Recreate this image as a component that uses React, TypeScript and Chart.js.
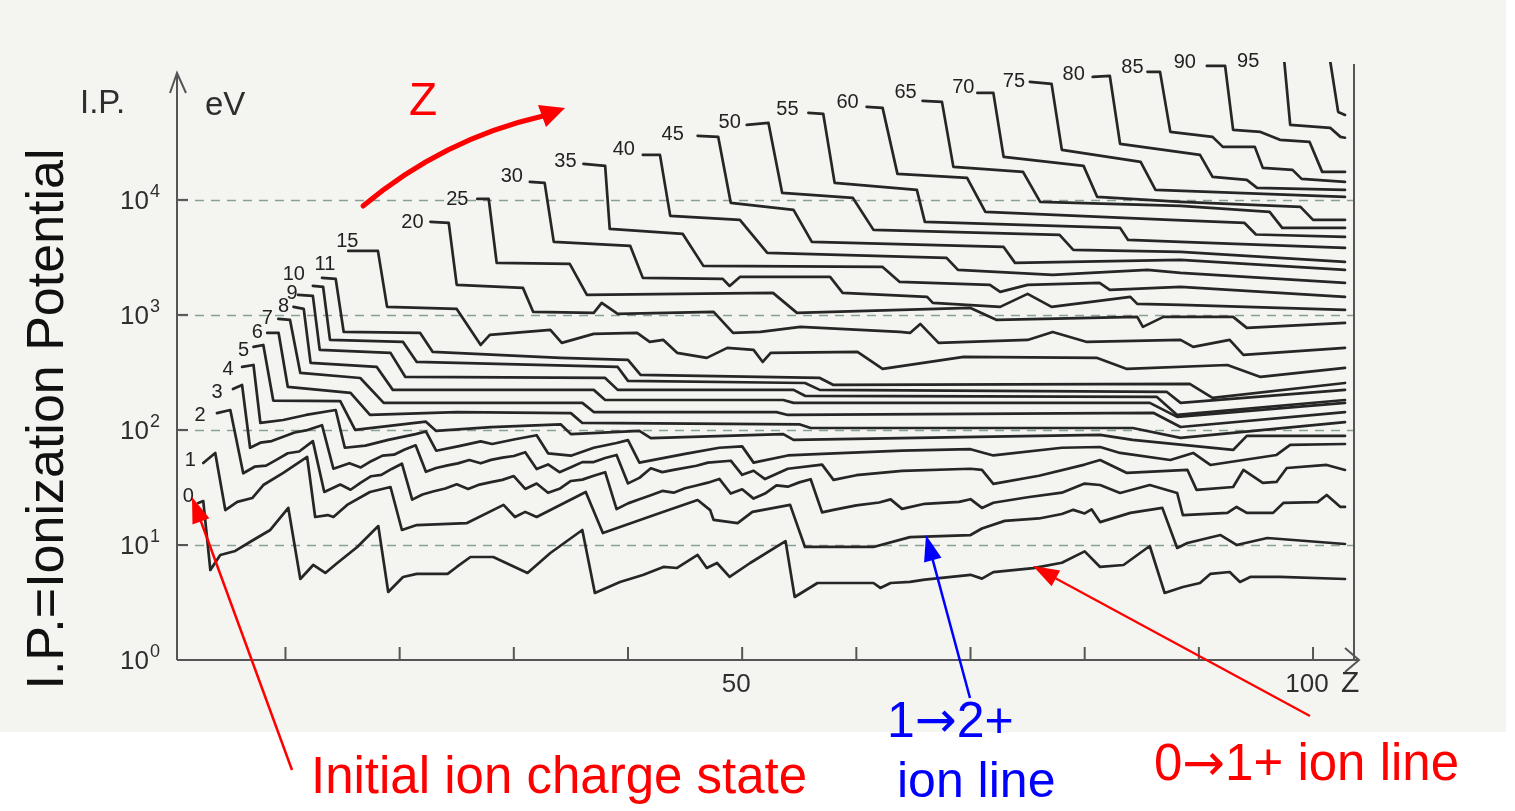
import React, { useEffect, useRef } from "react";
import { Chart, registerables } from "chart.js";

Chart.register(...registerables);

const FONT = '"Liberation Sans", Arial, Helvetica, sans-serif';
const ARROW_FONT = '"DejaVu Sans", sans-serif';
const INK = "#262626";

// Ionization potential (eV) versus atomic number Z, one list per initial charge state.
// Each entry: [Z, I.P. in eV]
const ion0 = [[2.36,23.2],[2.8,24.1],[3.42,6.06],[4.29,8.19],[5.6,8.87],[7.18,11.05],[8.67,13.5],[10.25,21.0],[11.3,5.06],[12.43,6.7],[13.49,5.71],[14.54,6.97],[16.29,9.61],[18.13,14.6],[19.0,3.9],[20.3,5.27],[21.5,5.6],[24.2,5.6],[25.0,6.44],[26.2,7.86],[28.2,7.86],[31.2,5.71],[33.2,8.52],[36.0,13.5],[37.1,3.83],[39.3,4.77],[41.3,5.48],[43.1,6.44],[44.3,6.31],[46.1,8.19],[46.9,6.31],[47.8,6.97],[48.9,5.27],[50.7,6.97],[53.8,10.8],[54.6,3.53],[56.6,4.67],[61.5,4.67],[62.1,4.23],[63.0,4.67],[64.7,4.77],[66,5.0],[70,5.5],[71,5.1],[72,5.8],[75.5,6.3],[78,7.0],[80,8.8],[81.35,6.44],[83.4,6.7],[85.7,9.8],[87.0,3.83],[88.6,4.31],[90.1,4.67],[91.0,5.6],[92.7,5.82],[93.6,4.77],[94.5,5.27],[97.1,5.27],[102.8,5.06]];
const ion1 = [[2.8,51.6],[3.85,63.1],[4.73,20.1],[5.78,23.7],[7.09,25.6],[8.06,33.2],[9.81,42.3],[11.9,58.2],[12.6,17.5],[13.7,18.2],[14.2,17.5],[15.4,22.3],[17.4,28.9],[19.2,31.9],[20.2,13.5],[21.5,14.9],[25.9,15.5],[29.1,22.3],[30.1,17.5],[31.0,19.4],[32.0,17.5],[36.3,28.9],[37.8,12.7],[42.8,19.0],[46.1,24.6],[47.2,20.1],[47.5,16.5],[49.6,15.5],[50.9,19.4],[54.2,22.3],[55.5,9.61],[61.5,9.61],[64.7,11.7],[70,12.2],[71,13.9],[73,16.2],[76,17],[78,18.6],[79,20.2],[80,18.8],[80.6,20.4],[81.35,15.8],[84.0,19.0],[86.8,21.0],[88.1,9.42],[89.0,10.4],[91.9,12.2],[93.3,10.0],[96.0,11.5],[102.8,10.2]];
const ion2 = [[4.0,140],[5.17,149],[6.3,42],[7.3,47.9],[8.3,49],[9.2,55],[10.2,62.7],[11.2,65],[12.4,80],[13.4,28.9],[14.8,33.5],[15.7,30.2],[16.6,34.9],[17.5,39.6],[18.4,40.7],[19.3,45.8],[20.2,50.9],[21.1,24.8],[22,27.5],[23,29.3],[24,31],[25,33.7],[26,30.7],[27,33.5],[28,35.2],[29,36.8],[30,39.7],[31,30.7],[32,34.2],[33,28.4],[34,30.8],[35,36],[36,37],[37,40],[38,42.9],[39,20.5],[40,23],[41,25],[42,27.1],[43,29.5],[44,28.5],[45,31.1],[46,32.9],[47,34.8],[48,37.5],[49,28],[50,30.5],[51,25.3],[52,28],[53,33],[54,32.1],[55,35],[56,37.3],[57,19.2],[58,20.2],[60,22.1],[62,23.4],[63,24.9],[64,20.6],[66,22.8],[69,23.7],[70,25],[71,21],[72,23.3],[75,26],[78,28.5],[80,34.2],[81.35,33.2],[83.1,28.3],[85.7,33.2],[88.1,28.3],[88.6,18.2],[92.5,19.0],[93.3,21.4],[94.2,19.0],[96.5,19.0],[97.4,23.2],[100.4,23.6],[101.2,27.2],[102.4,21.4],[102.8,21.4]];
const ion3 = [[5.4,227],[6.2,246],[6.9,70],[7.8,77.5],[8.8,80],[9.8,87.1],[10.8,95],[11.8,99],[13.2,110],[14.2,46],[15.6,51.4],[16.6,47.2],[17.5,53.5],[18.5,59.8],[19.5,60.9],[20.4,67.3],[21.4,73.5],[22.3,43.3],[23.2,46.7],[24.2,49.2],[25.1,51.2],[26.1,54.8],[27.1,51.3],[28,54.9],[29,57.4],[30,59.4],[31,64],[32,45.7],[33,50.1],[34,42.9],[35,47.3],[36,52.5],[37,52.6],[38,57],[39,60.6],[40,34.3],[41,38.3],[42,46.4],[43,43],[44,45],[46,48.8],[47,52],[49,54],[50,40.7],[51,44.2],[52,37.4],[54,46],[57,49.9],[58,36.8],[60,40.4],[64,44],[70,46],[71,45],[72,34],[76,40],[80,50],[81.35,54.8],[83.7,42.3],[89,44.9],[89.8,30.1],[93,31.9],[93.9,44.9],[95.6,34.6],[96.8,35.3],[97.7,46.7],[101.2,49.6],[102.8,44.9]];
const ion4 = [[6.2,353],[7.2,367],[7.8,115],[9.8,122],[11.8,135],[14.4,149],[15.2,70],[17,73],[19,82],[21.4,92],[22.3,97],[23.2,66],[25.2,72.4],[27.1,79.5],[28.1,75.5],[30,82.6],[32,90],[33,62.6],[35,59.7],[37,70],[39,77],[40,81.5],[41,52],[45,62],[48,70],[50,72],[51,52],[54,60],[57,62],[64,66],[70,68],[72,60],[78,70],[81.35,71.1],[83.1,63.1],[87.5,54.8],[89.5,63.1],[91,49.6],[96.8,60.6],[98,74.1],[102.8,75.5]];
const ion5 = [[7.2,527],[8.06,548],[8.93,180],[14.8,178],[16.1,100],[22.3,118],[23.2,98],[28,106],[34.1,112],[35,92],[41,98],[42,85],[53.6,92],[54.5,82],[81.35,90.5],[84.2,81.9],[93,67],[94.2,88.7],[102.8,88.7]];
const ion6 = [[8.4,697],[9.4,697],[10.2,237],[15.7,210],[17.4,135],[25,143],[35,140],[36,115],[55,112],[56,104],[84.2,104],[88.4,85.2],[102.8,117]];
const ion7 = [[9.37,923],[10.4,905],[11.3,313],[16.55,283],[18.6,172],[36,172],[37,143],[53,143],[54,135],[86,141],[88.4,106],[102.8,143]];
const ion8 = [[10.7,1175],[11.6,1128],[12.2,383],[18,353],[19.4,223],[37,223],[38,182],[53.6,182],[54.5,172],[85.7,172],[88.1,130],[102.8,172]];
const ion9 = [[11.1,1493],[12.4,1463],[13,496],[19.2,468],[20.5,289],[38,283],[39.1,223],[54.5,223],[55.5,198],[86.3,194],[88.1,135],[102.8,182]];
const ion10 = [[12.4,1786],[13.3,1750],[13.9,606],[20.3,582],[21.5,390],[39.1,353],[40,267],[55.5,256],[56.8,223],[87.2,214],[88.4,172],[102.8,223]];
const ion11 = [[13.2,2099],[14.4,2056],[15.1,711],[21.8,697],[22.9,477],[34.1,423],[40,406],[41.1,301],[56.8,283],[58,246],[89.2,251],[91.2,190],[102.8,256]];
const ion15 = [[15.5,3603],[18.1,3603],[18.9,1175],[25.0,1128],[27.1,548],[27.9,670],[33.2,741],[34.2,571],[37.0,684],[40.8,697],[41.9,582],[43.1,606],[44.3,468],[46.9,423],[48.7,517],[51.0,496],[51.8,390],[52.5,468],[60.1,477],[62.3,339],[69.4,431],[81.1,423],[83.7,339],[92.5,367],[95.4,289],[102.8,346]];
const ion20 = [[22.7,6440],[24.3,6310],[25.0,1824],[30.8,1718],[31.7,1062],[37.0,1041],[37.7,1271],[39.1,1020],[47.5,1062],[49.2,697],[51.6,711],[55.1,787],[63.8,711],[64.7,697],[65.6,835],[67.2,571],[75.0,606],[77.2,711],[80.2,582],[88.4,606],[89.5,527],[92.7,606],[93.9,449],[102.8,517]];
const ion25 = [[26.8,10200],[27.8,10200],[28.5,2833],[34.9,2775],[36.4,1493],[52.7,1554],[54.8,1041],[70.0,1150],[72.3,905],[84.6,961],[85.1,787],[86.9,961],[93.0,961],[94.2,771],[102.8,851]];
const ion30 = [[31.4,14350],[32.7,14060],[33.5,4315],[40.2,3981],[41.3,2099],[48.3,2056],[48.9,1786],[49.8,2138],[57.7,2138],[58.8,1554],[66.2,1435],[66.7,1271],[72.6,1175],[75.0,1523],[77.1,1175],[84.0,1435],[84.6,1247],[88.4,1222],[102.8,1105]];
const ion35 = [[36.1,20560],[38.0,19770],[38.4,5597],[44.8,5058],[46.6,2668],[62.3,2614],[63.8,1936],[71.7,1824],[72.6,1585],[75.0,1824],[81.3,1898],[82.2,1650],[88.4,1750],[102.8,1435]];
const ion40 = [[41.3,24620],[42.8,24620],[43.7,7262],[49.8,6700],[52.2,3459],[67.9,3130],[68.9,2462],[77.2,2228],[85.5,2462],[88.4,2317],[102.8,1898]];
const ion45 = [[46.1,36050],[47.9,35300],[49.0,9419],[54.5,8185],[56.1,4315],[72.9,3900],[73.9,2833],[88.4,3008],[102.8,2462]];
const ion50 = [[50.4,44870],[52.3,46740],[53.5,11510],[59.7,10400],[61.5,5485],[77.8,4962],[79.0,3675],[88.4,3532],[102.8,2890]];
const ion55 = [[55.8,57100],[57.1,55970],[58.1,14060],[65.3,12200],[66.0,6440],[83.1,5710],[83.8,4490],[88.4,4315],[102.8,3826]];
const ion60 = [[60.9,64400],[62.3,63100],[63.6,16830],[69.7,15520],[71.3,7870],[87.5,6700],[94,6300],[95,5000],[102.8,4766]];
const ion65 = [[65.8,72600],[67.5,71100],[68.5,19360],[74.6,17510],[76.1,9610],[88.4,8870],[96.2,7870],[97.3,5710],[102.8,5710]];
const ion70 = [[70.6,85150],[72.0,85150],[72.9,23660],[79.9,19770],[81.1,10610],[88.4,9610],[98.9,8690],[100.0,6700],[102.8,6700]];
const ion75 = [[75.2,106200],[77.1,102000],[78.0,27200],[84.9,21400],[86.2,12200],[102.8,10610]];
const ion80 = [[80.7,117400],[82.2,119800],[83.1,30690],[90.1,24620],[91.2,15850],[94.2,14930],[95.1,12710],[102.8,12210]];
const ion85 = [[85.5,129700],[86.6,129700],[87.5,39000],[91.2,35300],[92.1,28900],[94.9,28900],[95.6,18970],[98.2,18240],[99.0,15230],[102.8,14350]];
const ion90 = [[90.7,146200],[92.3,146200],[93.0,40600],[95.4,39000],[97.1,33270],[99.7,31920],[100.8,17510],[102.8,17510]];
const ion95 = [[96.3,250000],[97.3,250000],[98.0,44870],[101.5,42300],[102.4,35300],[102.8,34700]];
const ion100 = [[101.2,250000],[102.2,58200],[102.8,54800]];

const chargeLabels = ["0","1","2","3","4","5","6","7","8","9","10","11","15","20","25","30","35","40","45","50","55","60","65","70","75","80","85","90","95",""];
const chargeSeries = [ion0,ion1,ion2,ion3,ion4,ion5,ion6,ion7,ion8,ion9,ion10,ion11,ion15,ion20,ion25,ion30,ion35,ion40,ion45,ion50,ion55,ion60,ion65,ion70,ion75,ion80,ion85,ion90,ion95,ion100];
// label placement: [anchor point index, dx px, dy px]
const labelPlace = [[0,-10,-6],[0,-13,-3],[0,-17,2],[0,-16,3],[0,-14,3],[0,-10,4],[0,-10,0],[0,-11,0],[0,-10,0],[0,-6,-1],[0,-19,-11],[0,3,-13],[0,-1,-9],[0,-18,1],[0,-20,1],[0,-18,-5],[0,-18,-2],[0,-19,-5],[0,-25,-1],[0,-17,-2],[0,-21,-3],[0,-19,-4],[0,-17,-8],[0,-14,-5],[0,-16,0],[0,-19,-2],[0,-15,-4],[0,-22,-3],[2,-42,-63],[0,0,0]];

const yTickValues = [1, 10, 100, 1000, 10000];
const yTickExp = ["0", "1", "2", "3", "4"];
const gridValues = [10, 100, 1000, 10000];
const xTickValues = [10, 20, 30, 40, 50, 60, 70, 80, 90, 100];
const xTickText = ["", "", "", "", "50", "", "", "", "", "100"];

function drawArrow(ctx: any, x1: number, y1: number, x2: number, y2: number, color: string, lw: number, hl: number, hw: number) {
  const dx = x2 - x1, dy = y2 - y1;
  const L = Math.hypot(dx, dy);
  const ux = dx / L, uy = dy / L;
  const bx = x2 - ux * hl, by = y2 - uy * hl;
  ctx.save();
  ctx.strokeStyle = color;
  ctx.fillStyle = color;
  ctx.lineWidth = lw;
  ctx.beginPath();
  ctx.moveTo(x1, y1);
  ctx.lineTo(bx + ux * 2, by + uy * 2);
  ctx.stroke();
  ctx.beginPath();
  ctx.moveTo(x2, y2);
  ctx.lineTo(bx - uy * hw, by + ux * hw);
  ctx.lineTo(bx + uy * hw, by - ux * hw);
  ctx.closePath();
  ctx.fill();
  ctx.restore();
}

// draws text pieces in sequence; the arrow glyph uses a font with a full-size arrow
function drawPieces(ctx: any, pieces: string[], x: number, y: number, size: number) {
  let cx = x;
  for (const p of pieces) {
    ctx.font = p === "\u2192" ? `${size}px ${ARROW_FONT}` : `${size}px ${FONT}`;
    ctx.fillText(p, cx, y);
    cx += ctx.measureText(p).width;
  }
}

const decor = {
  id: "decor",
  beforeDraw(chart: any) {
    const { ctx } = chart;
    ctx.save();
    ctx.fillStyle = "#ffffff";
    ctx.fillRect(0, 0, chart.width, chart.height);
    ctx.fillStyle = "#f4f4f1";
    ctx.fillRect(0, 0, 1506, 732);
    ctx.restore();
  },
  beforeDatasetsDraw(chart: any) {
    const { ctx, chartArea, scales } = chart;
    const xs = scales.x, ys = scales.y;
    const left = chartArea.left, right = chartArea.right, bottom = chartArea.bottom;
    ctx.save();
    ctx.strokeStyle = "#8c9f95";
    ctx.lineWidth = 1.6;
    ctx.setLineDash([9, 7]);
    for (const v of gridValues) {
      const y = Math.round(ys.getPixelForValue(v)) + 0.5;
      ctx.beginPath();
      ctx.moveTo(left + 2, y);
      ctx.lineTo(right, y);
      ctx.stroke();
    }
    ctx.setLineDash([]);
    ctx.strokeStyle = "#555";
    ctx.lineWidth = 2;
    ctx.lineJoin = "miter";
    ctx.beginPath(); ctx.moveTo(left, bottom); ctx.lineTo(left, 74); ctx.stroke();
    ctx.beginPath(); ctx.moveTo(170, 93); ctx.lineTo(left, 73); ctx.lineTo(186, 93); ctx.stroke();
    ctx.beginPath(); ctx.moveTo(left, bottom); ctx.lineTo(1358, bottom); ctx.stroke();
    ctx.beginPath(); ctx.moveTo(1345, 648); ctx.lineTo(1359, bottom); ctx.lineTo(1345, 672); ctx.stroke();
    ctx.beginPath(); ctx.moveTo(right + 1, 64); ctx.lineTo(right + 1, bottom); ctx.stroke();
    // y ticks + labels
    ctx.fillStyle = "#2e2e2e";
    ctx.textBaseline = "middle";
    yTickValues.forEach((v, i) => {
      const y = ys.getPixelForValue(v);
      if (i > 0) {
        ctx.beginPath(); ctx.moveTo(left, y); ctx.lineTo(left + 11, y); ctx.stroke();
      }
      ctx.font = `26px ${FONT}`;
      ctx.textAlign = "right";
      ctx.fillText("10", 149, y + 2);
      ctx.font = `18px ${FONT}`;
      ctx.textAlign = "left";
      ctx.fillText(yTickExp[i], 150, y - 8);
    });
    // x ticks + labels
    xTickValues.forEach((v, i) => {
      const x = xs.getPixelForValue(v);
      ctx.beginPath(); ctx.moveTo(x, bottom); ctx.lineTo(x, bottom - 13); ctx.stroke();
      if (xTickText[i]) {
        ctx.font = `26px ${FONT}`;
        ctx.textAlign = "center";
        ctx.fillText(xTickText[i], x - 6, 685);
      }
    });
    ctx.textAlign = "left";
    ctx.font = `30px ${FONT}`;
    ctx.fillText("Z", 1341, 684);
    ctx.font = `33px ${FONT}`;
    ctx.fillText("I.P.", 80, 104);
    ctx.fillText("eV", 205, 106);
    ctx.restore();
  },
  afterDatasetsDraw(chart: any) {
    const { ctx, scales } = chart;
    const xs = scales.x, ys = scales.y;
    ctx.save();
    ctx.fillStyle = "#222";
    ctx.font = `20px ${FONT}`;
    ctx.textAlign = "center";
    ctx.textBaseline = "middle";
    chargeSeries.forEach((pts, i) => {
      const txt = chargeLabels[i];
      if (!txt) return;
      const [idx, dx, dy] = labelPlace[i];
      const p = pts[idx];
      const x = xs.getPixelForValue(p[0]);
      const y = ys.getPixelForValue(p[1]);
      ctx.fillText(txt, x + dx, y + dy);
    });
    ctx.restore();

    // annotations
    ctx.save();
    ctx.textBaseline = "alphabetic";
    ctx.textAlign = "left";
    ctx.fillStyle = "#ff0000";
    ctx.font = `46px ${FONT}`;
    ctx.fillText("Z", 409, 115);
    ctx.font = `51px ${FONT}`;
    ctx.fillText("Initial ion charge state", 311, 793);
    drawPieces(ctx, ["0", "\u2192", "1+ ion line"], 1154, 780, 51);
    ctx.fillStyle = "#0000ff";
    drawPieces(ctx, ["1", "\u2192", "2+"], 887, 737, 50);
    ctx.font = `50px ${FONT}`;
    ctx.fillText("ion line", 897, 797);
    ctx.fillStyle = "#111";
    ctx.save();
    ctx.translate(63, 419);
    ctx.rotate(-Math.PI / 2);
    ctx.textAlign = "center";
    ctx.font = `52px ${FONT}`;
    ctx.fillText("I.P.=Ionization Potential", 0, 0);
    ctx.restore();

    // curved Z arrow
    ctx.strokeStyle = "#ff0000";
    ctx.fillStyle = "#ff0000";
    ctx.lineWidth = 5;
    ctx.lineCap = "round";
    ctx.beginPath();
    ctx.moveTo(363, 206);
    ctx.bezierCurveTo(400, 175, 460, 135, 543, 116);
    ctx.stroke();
    ctx.beginPath();
    ctx.moveTo(565, 108);
    ctx.lineTo(546, 127);
    ctx.lineTo(538, 105);
    ctx.closePath();
    ctx.fill();
    ctx.lineCap = "butt";
    drawArrow(ctx, 292, 770, 192, 497, "#ff0000", 2.5, 26, 9);
    drawArrow(ctx, 970, 698, 926, 535, "#0000ff", 2.5, 26, 9);
    drawArrow(ctx, 1310, 716, 1033, 566, "#ff0000", 2.2, 26, 9);
    ctx.restore();
  },
};

export default function App() {
  const ref = useRef<HTMLCanvasElement | null>(null);
  useEffect(() => {
    if (!ref.current) return;
    const datasets = chargeSeries.map((pts, i) => ({
      label: chargeLabels[i] || "100",
      data: pts.map(([x, y]) => ({ x, y })),
      borderColor: INK,
      borderWidth: 2.7,
      pointRadius: 0,
      pointHoverRadius: 0,
      fill: false,
      tension: 0,
      borderJoinStyle: "round" as const,
      borderCapStyle: "round" as const,
    }));
    const chart = new Chart(ref.current, {
      type: "line",
      data: { datasets },
      options: {
        animation: false,
        responsive: false,
        devicePixelRatio: 1,
        events: [],
        layout: { padding: { left: 177, right: 162, top: 62, bottom: 151 } },
        plugins: { legend: { display: false }, tooltip: { enabled: false }, title: { display: false } },
        scales: {
          x: { type: "linear", min: 0.5, max: 103.5, display: false },
          y: { type: "logarithmic", min: 1, max: 158000, display: false },
        },
      },
      plugins: [decor],
    } as any);
    return () => chart.destroy();
  }, []);
  return (
    <div style={{ position: "fixed", left: 0, top: 0, width: 1515, height: 811, background: "#fff" }}>
      <canvas ref={ref} width={1515} height={811} style={{ display: "block", width: 1515, height: 811 }} />
    </div>
  );
}
